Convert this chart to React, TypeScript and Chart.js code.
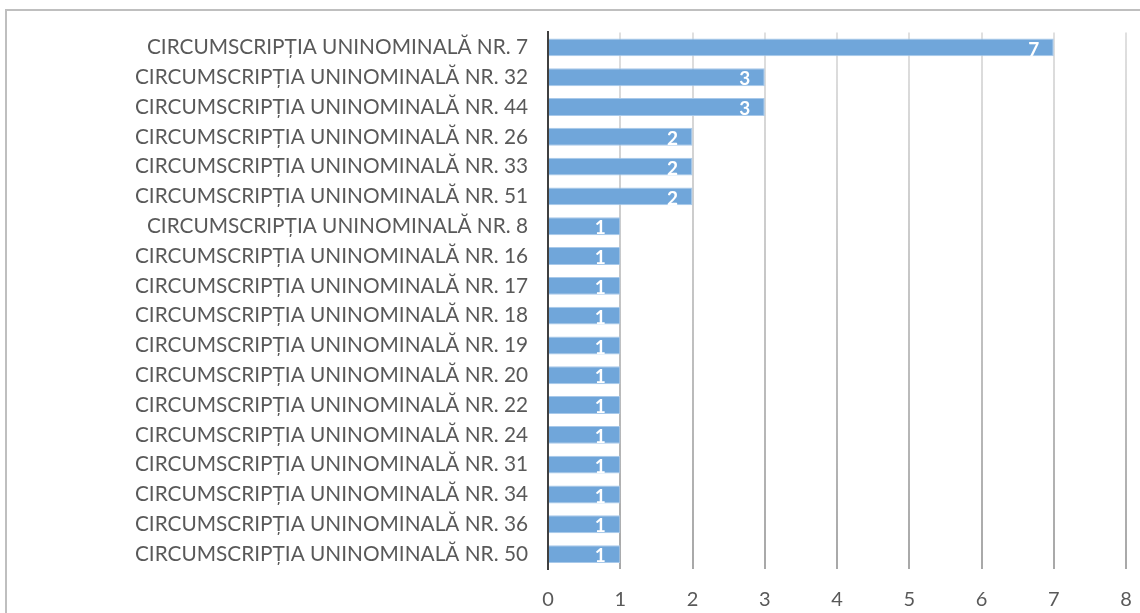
import React, { useEffect, useRef } from "react";
import { Chart, registerables } from "chart.js";

Chart.register(...registerables);

const categories: string[] = [
  "CIRCUMSCRIPȚIA UNINOMINALĂ NR. 7",
  "CIRCUMSCRIPȚIA UNINOMINALĂ NR. 32",
  "CIRCUMSCRIPȚIA UNINOMINALĂ NR. 44",
  "CIRCUMSCRIPȚIA UNINOMINALĂ NR. 26",
  "CIRCUMSCRIPȚIA UNINOMINALĂ NR. 33",
  "CIRCUMSCRIPȚIA UNINOMINALĂ NR. 51",
  "CIRCUMSCRIPȚIA UNINOMINALĂ NR. 8",
  "CIRCUMSCRIPȚIA UNINOMINALĂ NR. 16",
  "CIRCUMSCRIPȚIA UNINOMINALĂ NR. 17",
  "CIRCUMSCRIPȚIA UNINOMINALĂ NR. 18",
  "CIRCUMSCRIPȚIA UNINOMINALĂ NR. 19",
  "CIRCUMSCRIPȚIA UNINOMINALĂ NR. 20",
  "CIRCUMSCRIPȚIA UNINOMINALĂ NR. 22",
  "CIRCUMSCRIPȚIA UNINOMINALĂ NR. 24",
  "CIRCUMSCRIPȚIA UNINOMINALĂ NR. 31",
  "CIRCUMSCRIPȚIA UNINOMINALĂ NR. 34",
  "CIRCUMSCRIPȚIA UNINOMINALĂ NR. 36",
  "CIRCUMSCRIPȚIA UNINOMINALĂ NR. 50",
];

const values: number[] = [7, 3, 3, 2, 2, 2, 1, 1, 1, 1, 1, 1, 1, 1, 1, 1, 1, 1];

const xMin = 0;
const xMax = 8;
const xStep = 1;

const FONT = "Lato, 'Open Sans', sans-serif";

const valueLabelPlugin = {
  id: "valueLabels",
  afterDatasetsDraw(chart: any) {
    const ctx = chart.ctx;
    const meta = chart.getDatasetMeta(0);
    ctx.save();
    ctx.fillStyle = "#ffffff";
    ctx.font = `bold 19px ${FONT}`;
    ctx.textAlign = "center";
    ctx.textBaseline = "middle";
    meta.data.forEach((bar: any, i: number) => {
      const v = chart.data.datasets[0].data[i];
      ctx.fillText(String(v), bar.x - 20, bar.y + 2);
    });
    ctx.restore();
  },
};

export default function App() {
  const ref = useRef<HTMLCanvasElement | null>(null);

  useEffect(() => {
    document.body.style.margin = "0";
    const canvas = ref.current;
    if (!canvas) return;
    const chart = new Chart(canvas, {
      type: "bar",
      data: {
        labels: categories,
        datasets: [
          {
            data: values,
            backgroundColor: "#70a6da",
            borderColor: "#a8c9ea",
            borderWidth: 1,
            barPercentage: 0.6,
            categoryPercentage: 1,
          },
        ],
      },
      options: {
        indexAxis: "y",
        animation: false,
        responsive: false,
        maintainAspectRatio: false,
        layout: { padding: { top: 31, right: 14, bottom: 0, left: 0 } },
        plugins: {
          legend: { display: false },
          tooltip: { enabled: false },
        },
        scales: {
          x: {
            min: xMin,
            max: xMax,
            ticks: {
              stepSize: xStep,
              color: "#595959",
              font: { family: FONT, size: 20 },
              padding: 19,
            },
            grid: {
              drawTicks: false,
              lineWidth: 2,
              color: (c: any) => {
                const ca = c.chart.chartArea;
                if (!ca) return "#c8c8c8";
                const g = c.chart.ctx.createLinearGradient(0, ca.top, 0, ca.bottom);
                g.addColorStop(0, "#e0e0e0");
                g.addColorStop(1, "#a8a8a8");
                return g;
              },
            },
            border: { display: false },
            afterFit: (s: any) => {
              s.height = 44;
              s.paddingRight = 0;
              s.paddingLeft = 0;
            },
          },
          y: {
            ticks: {
              color: "#595959",
              font: { family: FONT, size: 20.8 },
              padding: 20,
            },
            grid: { display: false, drawTicks: false },
            border: { display: true, color: "#404040", width: 2 },
            afterFit: (s: any) => {
              s.width = 548;
            },
          },
        },
      },
      plugins: [valueLabelPlugin],
    });
    return () => chart.destroy();
  }, []);

  return (
    <div style={{ position: "relative", width: 1140, height: 613, overflow: "hidden", background: "#fff" }}>
      <div
        style={{
          position: "absolute",
          left: 5,
          top: 9,
          width: 2000,
          height: 2000,
          borderTop: "2px solid #bfbfbf",
          borderLeft: "2px solid #bfbfbf",
        }}
      />
      <canvas ref={ref} width={1140} height={613} style={{ position: "absolute", left: 0, top: 0 }} />
    </div>
  );
}
